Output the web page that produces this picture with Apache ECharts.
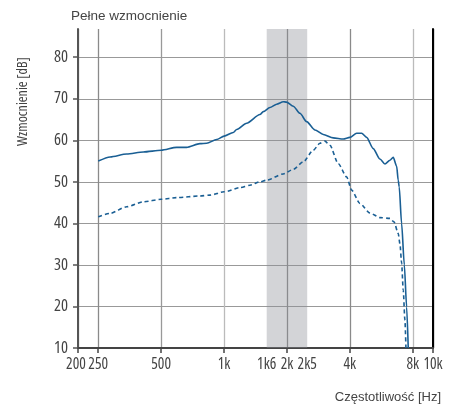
<!DOCTYPE html>
<html><head><meta charset="utf-8">
<script src="https://cdn.jsdelivr.net/npm/echarts@6/dist/echarts.min.js"></script>
<style>html,body{margin:0;padding:0;background:#fff}#c{width:463px;height:410px}</style>
</head><body><div id="c"></div>
<script>
// ---- data ----
const xTickValues = [200, 250, 500, 1000, 2000, 4000, 8000, 10000];
const xLabelValues = [200, 250, 500, 1000, 1600, 2000, 2500, 4000, 8000, 10000];
const xLabelTexts = ['200', '250', '500', '1k', '1k6', '2k', '2k5', '4k', '8k', '10k'];
const yTickValues = [10, 20, 30, 40, 50, 60, 70, 80];
const bandRange = [1600, 2500];

const fullFreq = [250, 285, 342, 411, 500, 593, 662, 767, 826, 922, 1000, 1107, 1149, 1283, 1485, 1541, 1658, 1785, 1921, 1990, 2144, 2308, 2484, 2723, 2984, 3331, 3719, 4000, 4311, 4555, 4812, 5176, 5572, 5889, 6220, 6452, 6697, 6816, 6890, 7075, 7290, 7478, 7612];
const fullGain = [55.0, 56.0, 56.7, 57.2, 57.6, 58.3, 58.3, 59.2, 59.3, 60.2, 61.0, 61.9, 62.6, 64.1, 66.2, 66.9, 67.9, 68.7, 69.3, 69.2, 68.2, 66.5, 64.5, 62.5, 61.4, 60.6, 60.3, 60.7, 61.7, 61.7, 60.7, 58.0, 55.5, 54.3, 55.2, 55.9, 53.8, 50.4, 48.8, 40.0, 30.0, 19.9, 10.0];

const nomFreq = [250, 284, 342, 411, 500, 593, 767, 856, 1000, 1192, 1331, 1485, 1600, 1921, 2144, 2393, 2671, 2877, 3040, 3211, 3520, 3861, 4080, 4471, 4989, 5572, 6220, 6501, 6816, 6950, 7075, 7204, 7338, 7421];
const nomGain = [41.6, 42.4, 44.0, 45.2, 45.8, 46.2, 46.6, 46.8, 47.6, 48.6, 49.2, 50.0, 50.4, 51.9, 53.0, 54.8, 57.6, 59.3, 59.8, 58.8, 54.4, 51.2, 48.0, 44.8, 42.5, 41.4, 41.2, 40.4, 37.6, 35.0, 30.5, 23.9, 16.7, 10.0];

const titleText = 'Pełne wzmocnienie';
const yName = 'Wzmocnienie [dB]';
const xName = 'Częstotliwość [Hz]';

// ---- chart ----
const lineColor = '#1a5f94';
const textFont = '"Liberation Sans", Arial, sans-serif';
const narrowFont = '"Open Sans", "Liberation Sans", sans-serif';

function zip(a, b) { return a.map((v, i) => [v, b[i]]); }
function xLabel(v) {
  let best = 0, bd = Infinity;
  xLabelValues.forEach((t, i) => { const d = Math.abs(Math.log(t) - Math.log(v)); if (d < bd) { bd = d; best = i; } });
  return best === 0 ? '{first|' + xLabelTexts[best] + '}' : xLabelTexts[best];
}

const chart = echarts.init(document.getElementById('c'), null, { renderer: 'canvas' });
chart.setOption({
  animation: false,
  grid: { left: 78, right: 30, top: 29, bottom: 62, containLabel: false },
  graphic: [
    { type: 'text', left: 71, top: 9, style: { text: titleText, font: '13.5px ' + textFont, fill: '#444' } },
    { type: 'text', x: 23, y: 101.5, rotation: Math.PI / 2, style: { text: yName, font: 'condensed 14px ' + narrowFont, fill: '#444', align: 'center', verticalAlign: 'middle' } },
    { type: 'text', right: 22, top: 391, style: { text: xName, font: '13px ' + textFont, fill: '#444' } }
  ],
  xAxis: {
    type: 'log', min: 200, max: 10000, logBase: 10,
    axisLine: { show: true, onZero: false, lineStyle: { color: '#444', width: 2 } },
    axisTick: { show: true, length: 5, customValues: xTickValues, lineStyle: { color: '#444', width: 1.5 } },
    axisLabel: {
      customValues: xLabelValues, formatter: xLabel, margin: 9, color: '#444', fontSize: 15.5, fontStyle: 'condensed', fontFamily: narrowFont,
      hideOverlap: false, showMinLabel: true, showMaxLabel: true,
      rich: { first: { fontSize: 15.5, fontStyle: 'condensed', fontFamily: narrowFont, color: '#444', padding: [0, 4, 0, 0] } }
    },
    splitLine: { show: true, lineStyle: { color: ['#888', '#8a8a8a', '#999', '#bbb', '#8a8a8a', '#8a8a8a', '#bbb', '#000'], width: 1.3 } },
    minorTick: { show: false }, minorSplitLine: { show: false }
  },
  yAxis: [{
    type: 'value', min: 10, max: 86.8, interval: 10,
    axisLine: { show: true, lineStyle: { color: '#555', width: 2 } },
    axisTick: { show: true, length: 5, customValues: yTickValues, lineStyle: { color: '#555', width: 1.5 } },
    axisLabel: { customValues: yTickValues, margin: 10, color: '#444', fontSize: 16.5, fontStyle: 'condensed', fontFamily: narrowFont },
    splitLine: { show: true, lineStyle: { color: '#999', width: 1.2 } }
  }, {
    type: 'value', min: 10, max: 86.8, position: 'right',
    axisLine: { show: true, lineStyle: { color: '#000', width: 2 } },
    axisTick: { show: false }, axisLabel: { show: false }, splitLine: { show: false }
  }],
  series: [
    {
      type: 'line', data: [], silent: true,
      markArea: { silent: true, itemStyle: { color: 'rgba(140,143,150,0.38)' }, data: [[{ xAxis: bandRange[0] }, { xAxis: bandRange[1] }]] }
    },
    {
      name: 'full', type: 'line', data: zip(fullFreq, fullGain), showSymbol: false, symbol: 'none',
      smooth: 0.25, smoothMonotone: 'x',
      lineStyle: { color: lineColor, width: 1.6 }
    },
    {
      name: 'nominal', type: 'line', data: zip(nomFreq, nomGain), showSymbol: false, symbol: 'none',
      smooth: 0.25, smoothMonotone: 'x',
      lineStyle: { color: lineColor, width: 1.6, type: [4, 3] }
    }
  ]
});
</script>
</body></html>
